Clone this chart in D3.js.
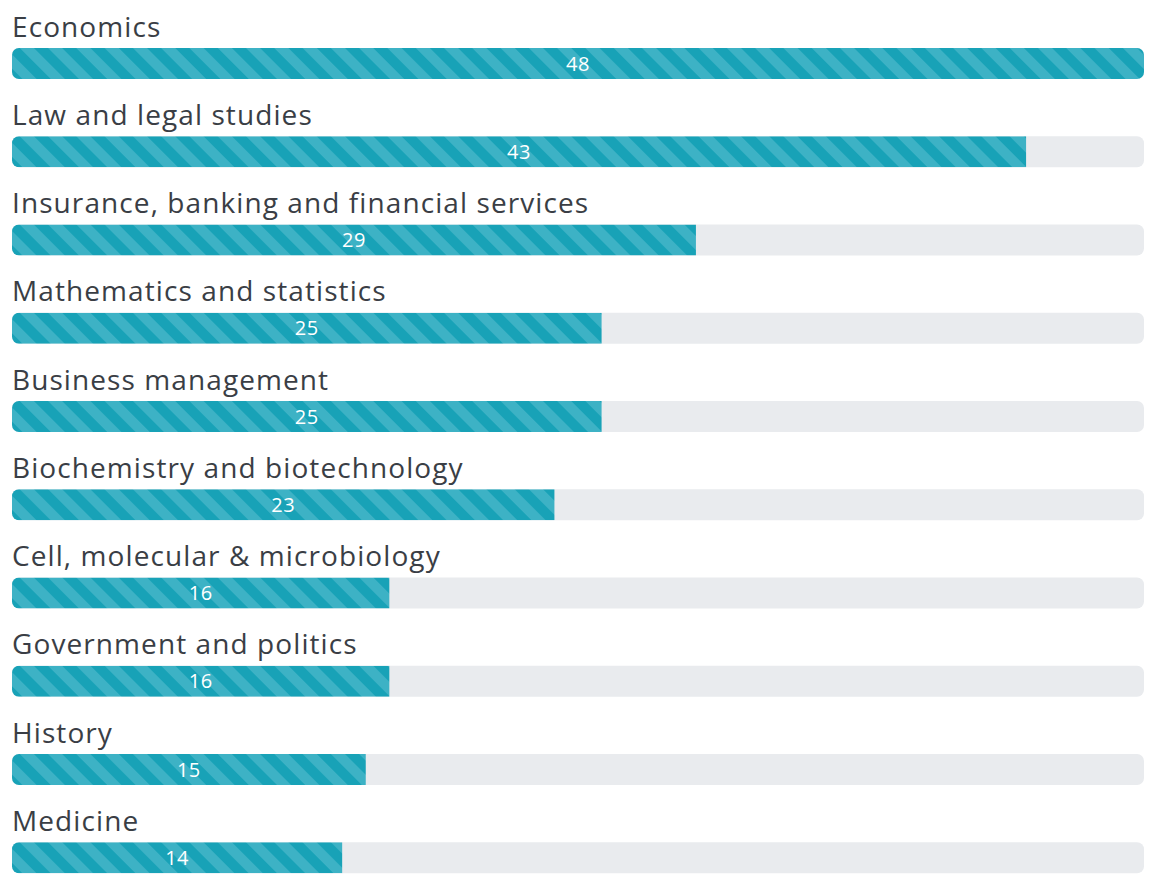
<!DOCTYPE html>
<html>
<head>
<meta charset="utf-8">
<script src="https://cdn.jsdelivr.net/npm/d3@7"></script>
<style>
  body { margin: 0; background: #fff; }
  svg { display: block; }
</style>
</head>
<body>
<div id="chart-area"></div>
<script>
var subjects = [
    "Economics",
    "Law and legal studies",
    "Insurance, banking and financial services",
    "Mathematics and statistics",
    "Business management",
    "Biochemistry and biotechnology",
    "Cell, molecular & microbiology",
    "Government and politics",
    "History",
    "Medicine"
];
var counts = [48, 43, 29, 25, 25, 23, 16, 16, 15, 14];
var maxCount = 48;

var width = 1153, height = 880;
var margin = { left: 12, right: 9 };
var barHeight = 31, barOffset = 48;
var labelFont = "'Open Sans', sans-serif";

var svg = d3.select("#chart-area")
    .append("svg")
    .attr("width", width)
    .attr("height", height);

var defs = svg.append("defs");

// diagonal stripes, light band half of the period
var stripes = defs.append("pattern")
    .attr("id", "stripes")
    .attr("patternUnits", "userSpaceOnUse")
    .attr("width", 20)
    .attr("height", 20)
    .attr("patternTransform", "rotate(-45)");

stripes.append("rect")
    .attr("width", 20)
    .attr("height", 20)
    .attr("fill", "#18a2b7");

stripes.append("rect")
    .attr("width", 10)
    .attr("height", 20)
    .attr("fill", "#3db2c5");

var x = d3.scaleLinear().domain([0, maxCount]).range([margin.left, width - margin.right]);
var y = d3.scaleBand().domain(subjects).range([0, 882.5]);

var rows = svg.selectAll(".row")
    .data(subjects.map((s, i) => ({ subject: s, count: counts[i], i: i })))
    .enter()
    .append("g")
    .attr("class", "row")
    .attr("transform", d => `translate(0,${y(d.subject)})`);

rows.append("clipPath")
    .attr("id", d => "clip-" + d.i)
    .append("rect")
    .attr("x", x(0))
    .attr("y", barOffset)
    .attr("width", x(maxCount) - x(0))
    .attr("height", barHeight)
    .attr("rx", 7);

rows.append("rect")
    .attr("class", "track")
    .attr("x", x(0))
    .attr("y", barOffset)
    .attr("width", x(maxCount) - x(0))
    .attr("height", barHeight)
    .attr("rx", 7)
    .attr("fill", "#e9ebee");

rows.append("rect")
    .attr("class", "bar")
    .attr("clip-path", d => `url(#clip-${d.i})`)
    .attr("x", x(0))
    .attr("y", barOffset)
    .attr("width", d => x(d.count) - x(0))
    .attr("height", barHeight)
    .attr("fill", "url(#stripes)");

var labels = rows.append("text")
    .attr("class", "label")
    .attr("x", x(0))
    .attr("y", 36.5)
    .attr("font-family", labelFont)
    .attr("font-size", "28px")
    .attr("fill", "#3a3e45")
    .text(d => d.subject);

// nudge spacing so the longest label spans ~576px like the original face
var longest = labels.filter(d => d.i === 2).node();
var spacing = (576 - longest.getComputedTextLength()) / (subjects[2].length - 1);
labels.attr("letter-spacing", spacing.toFixed(2) + "px");

rows.append("text")
    .attr("class", "value")
    .attr("x", d => (x(0) + x(d.count)) / 2)
    .attr("y", barOffset + barHeight / 2 + 7)
    .attr("text-anchor", "middle")
    .attr("font-family", labelFont)
    .attr("font-size", "20px")
    .attr("letter-spacing", "0.5px")
    .attr("fill", "#fff")
    .text(d => d.count);
</script>
</body>
</html>
